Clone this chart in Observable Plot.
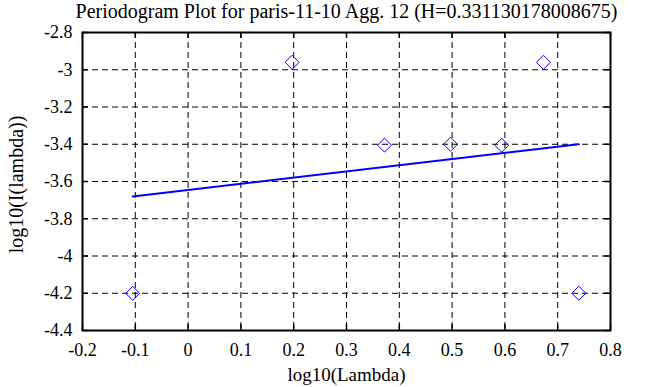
<!DOCTYPE html>
<html><head><meta charset="utf-8">
<script src="https://cdn.jsdelivr.net/npm/d3@7"></script>
<script src="https://cdn.jsdelivr.net/npm/@observablehq/plot@0.6"></script>
<style>
body{margin:0;background:#fff;font-family:"Liberation Serif",serif}
svg{display:block}
svg text{font-family:"Liberation Serif",serif !important}
</style>
</head><body><div id="chart"></div>
<script>
const title = "Periodogram Plot for paris-11-10 Agg. 12 (H=0.331130178008675)";
const xLabel = "log10(Lambda)";
const yLabel = "log10(I(lambda))";
const logLambda = [-0.105, 0.197, 0.372, 0.497, 0.594, 0.673, 0.740];
const logI = [-4.20, -2.96, -3.405, -3.40, -3.405, -2.96, -4.20];
const fitX = [-0.105, 0.740];
const fitY = [-3.68, -3.40];
const xTicks = [-0.2, -0.1, 0, 0.1, 0.2, 0.3, 0.4, 0.5, 0.6, 0.7, 0.8];
const yTicks = [-4.4, -4.2, -4.0, -3.8, -3.6, -3.4, -3.2, -3.0, -2.8];

const points = logLambda.map((x, i) => ({x, y: logI[i]}));
const fit = fitX.map((x, i) => ({x, y: fitY[i]}));
const fmt = d => String(+d.toFixed(1));

const W = 663, H = 387, mL = 82, mR = 53, mT = 32, mB = 57;
const fw = W - mL - mR, fh = H - mT - mB, tk = 6;
const FONT = "Liberation Serif";

const chart = Plot.plot({
  width: W, height: H,
  marginLeft: mL, marginRight: mR, marginTop: mT, marginBottom: mB,
  style: {fontSize: "18px", color: "black", background: "white"},
  x: {domain: [-0.2, 0.8], axis: null},
  y: {domain: [-4.4, -2.8], axis: null},
  marks: [
    Plot.gridX(xTicks, {stroke: "black", strokeOpacity: 1, strokeDasharray: "6,4"}),
    Plot.gridY(yTicks, {stroke: "black", strokeOpacity: 1, strokeDasharray: "6,4"}),
    Plot.tickX(xTicks, {x: d => d, stroke: "black", strokeWidth: 1.5, insetTop: fh - tk}),
    Plot.tickX(xTicks, {x: d => d, stroke: "black", strokeWidth: 1.5, insetBottom: fh - tk}),
    Plot.tickY(yTicks, {y: d => d, stroke: "black", strokeWidth: 1.5, insetRight: fw - tk}),
    Plot.tickY(yTicks, {y: d => d, stroke: "black", strokeWidth: 1.5, insetLeft: fw - tk}),
    Plot.text(xTicks, {x: d => d, text: fmt, frameAnchor: "bottom", dy: 13, lineAnchor: "top", textAnchor: "middle", fontSize: 18, fontFamily: FONT, fill: "black"}),
    Plot.text(yTicks, {y: d => d, text: fmt, frameAnchor: "left", dx: -10, lineAnchor: "middle", textAnchor: "end", fontSize: 18, fontFamily: FONT, fill: "black"}),
    Plot.frame({stroke: "black", strokeWidth: 2}),
    Plot.line(fit, {x: "x", y: "y", stroke: "#0000ff", strokeWidth: 2}),
    Plot.dot(points, {x: "x", y: "y", symbol: "diamond2", r: 6.3, stroke: "#0000ff", strokeWidth: 1, fill: "none"}),
    Plot.text([title], {frameAnchor: "top", dy: -15, lineAnchor: "bottom", fontSize: 20, fontFamily: FONT, fill: "black"}),
    Plot.text([xLabel], {frameAnchor: "bottom", dy: 50, lineAnchor: "bottom", fontSize: 19, fontFamily: FONT, fill: "black"}),
    Plot.text([yLabel], {frameAnchor: "middle", dx: -(fw / 2 + 66), dy: 3, rotate: -90, textAnchor: "middle", lineAnchor: "middle", fontSize: 20, fontFamily: FONT, fill: "black"})
  ]
});
document.getElementById("chart").appendChild(chart);
</script>
</body></html>
